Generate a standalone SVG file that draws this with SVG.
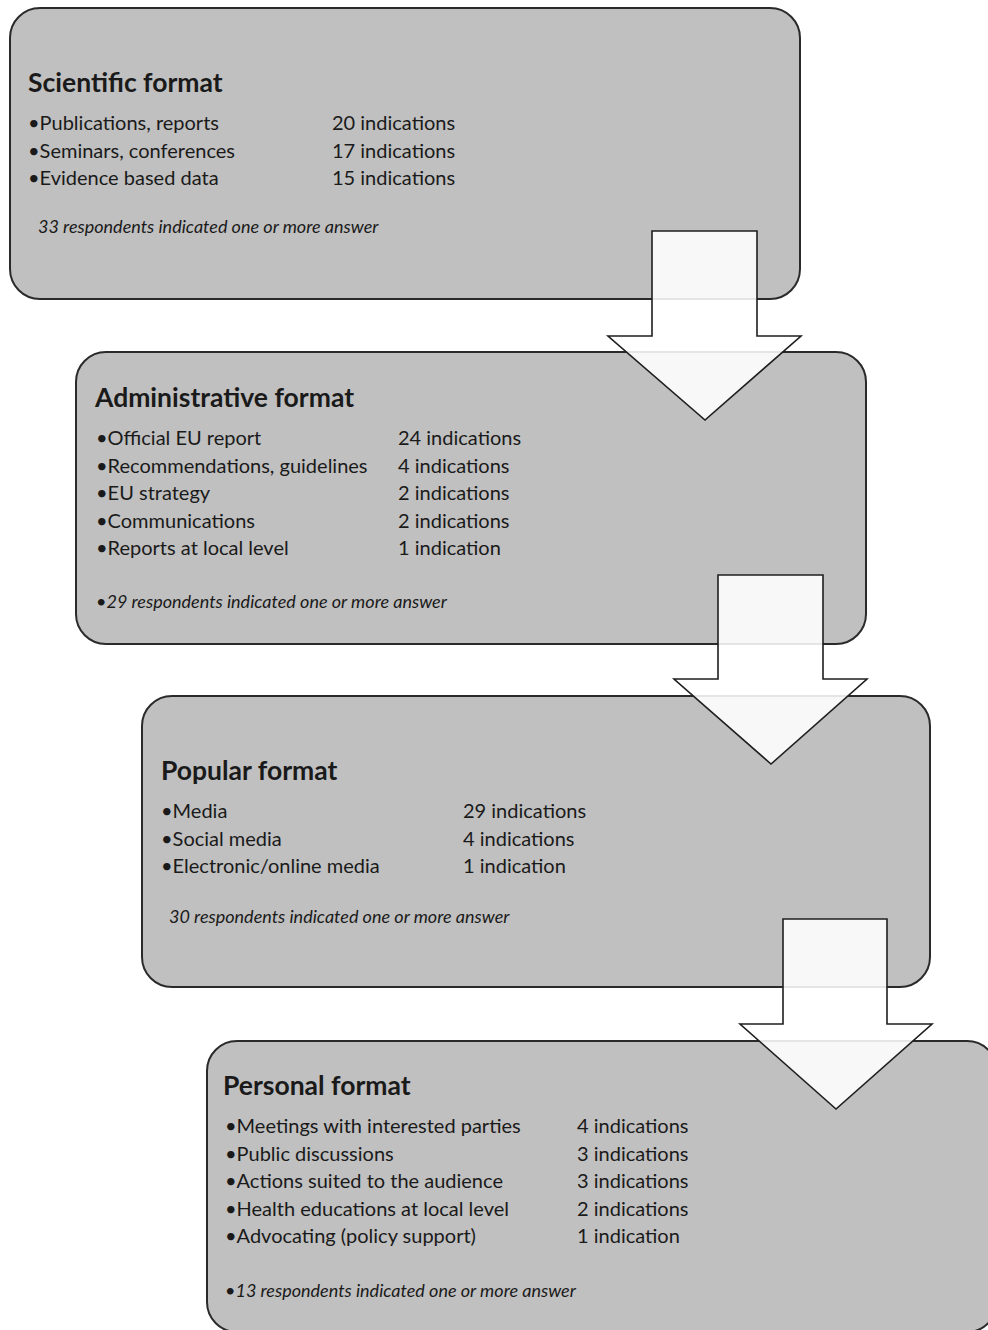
<svg xmlns="http://www.w3.org/2000/svg" width="988" height="1330" viewBox="0 0 988 1330">
<style>
.box{fill:#c0c0c0;stroke:#2a2a2a;stroke-width:2}
.arrow{fill:#ffffff;fill-opacity:0.88;stroke:#1e1e1e;stroke-width:1.6;stroke-linejoin:miter}
text{font-family:Lato,"Open Sans","Liberation Sans",sans-serif;fill:#1a1a1a}
.title{font-size:26.5px;font-weight:bold}
.item{font-size:20px}
.note{font-size:18px;font-style:italic}
</style>
<rect width="988" height="1330" fill="#ffffff"/>
<g id="scientific">
<rect class="box" x="10" y="8" width="790" height="291" rx="30"/>
<text class="title" x="28" y="92">Scientific format</text>
<text class="item" x="28" y="130">•Publications, reports</text>
<text class="item" x="28" y="157.5">•Seminars, conferences</text>
<text class="item" x="28" y="185">•Evidence based data</text>
<text class="item" x="332" y="130">20 indications</text>
<text class="item" x="332" y="157.5">17 indications</text>
<text class="item" x="332" y="185">15 indications</text>
<text class="note" x="38" y="233">33 respondents indicated one or more answer</text>
</g>
<g id="administrative">
<rect class="box" x="76" y="352" width="790" height="292" rx="30"/>
<text class="title" x="95" y="407">Administrative format</text>
<text class="item" x="96" y="445">•Official EU report</text>
<text class="item" x="96" y="473">•Recommendations, guidelines</text>
<text class="item" x="96" y="500">•EU strategy</text>
<text class="item" x="96" y="528">•Communications</text>
<text class="item" x="96" y="555">•Reports at local level</text>
<text class="item" x="398" y="445">24 indications</text>
<text class="item" x="398" y="473">4 indications</text>
<text class="item" x="398" y="500">2 indications</text>
<text class="item" x="398" y="528">2 indications</text>
<text class="item" x="398" y="555">1 indication</text>
<text class="note" x="96" y="608">•29 respondents indicated one or more answer</text>
</g>
<g id="popular">
<rect class="box" x="142" y="696" width="788" height="291" rx="30"/>
<text class="title" x="161" y="780">Popular format</text>
<text class="item" x="161" y="818">•Media</text>
<text class="item" x="161" y="846">•Social media</text>
<text class="item" x="161" y="873">•Electronic/online media</text>
<text class="item" x="463" y="818">29 indications</text>
<text class="item" x="463" y="846">4 indications</text>
<text class="item" x="463" y="873">1 indication</text>
<text class="note" x="169" y="923">30 respondents indicated one or more answer</text>
</g>
<g id="personal">
<rect class="box" x="207" y="1041" width="790" height="291" rx="30"/>
<text class="title" x="223" y="1095">Personal format</text>
<text class="item" x="225" y="1133">•Meetings with interested parties</text>
<text class="item" x="225" y="1161">•Public discussions</text>
<text class="item" x="225" y="1188">•Actions suited to the audience</text>
<text class="item" x="225" y="1216">•Health educations at local level</text>
<text class="item" x="225" y="1243">•Advocating (policy support)</text>
<text class="item" x="577" y="1133">4 indications</text>
<text class="item" x="577" y="1161">3 indications</text>
<text class="item" x="577" y="1188">3 indications</text>
<text class="item" x="577" y="1216">2 indications</text>
<text class="item" x="577" y="1243">1 indication</text>
<text class="note" x="225" y="1297">•13 respondents indicated one or more answer</text>
</g>
<g id="connectors">
<path class="arrow" d="M652,231 H757 V336 H801 L705,420 L608,336 H652 Z"/>
<path class="arrow" d="M718,575 H823 V679 H867 L771,764 L674,679 H718 Z"/>
<path class="arrow" d="M783,919 H887 V1024 H932 L836,1109 L740,1024 H783 Z"/>
</g>
</svg>
